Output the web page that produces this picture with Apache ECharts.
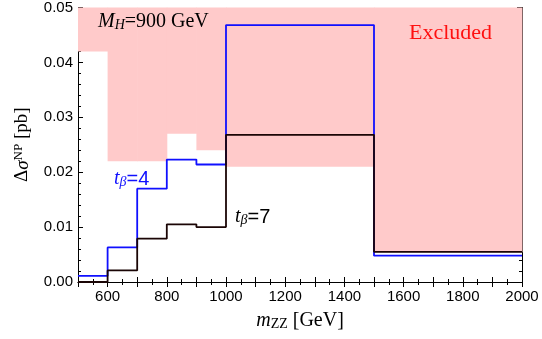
<!DOCTYPE html>
<html>
<head>
<meta charset="utf-8">
<script src="https://cdn.jsdelivr.net/npm/echarts@6/dist/echarts.min.js"></script>
<style>
html, body { margin: 0; padding: 0; background: #fff; }
#main { width: 542px; height: 339px; }
</style>
</head>
<body>
<div id="main"></div>
<script>
// bin edges (GeV) and values (pb)
var binEdges = [500, 600, 700, 800, 900, 1000, 1500, 2000];
var excludedLow = [0.042, 0.022, 0.022, 0.027, 0.024, 0.021, 0.0054];
var tb4 = [0.0011, 0.0063, 0.0170, 0.0223, 0.0214, 0.0468, 0.0048];
var tb7 = [0.0000, 0.0021, 0.0079, 0.0105, 0.0100, 0.0268, 0.0055];
var xTickLabels = [600, 800, 1000, 1200, 1400, 1600, 1800, 2000];
var yTickLabels = [0.00, 0.01, 0.02, 0.03, 0.04, 0.05];

var serif = "'Liberation Serif', 'DejaVu Serif', serif";
var sans = "'Liberation Sans', Arial, sans-serif";

// step points: value held from left edge to next edge
function stepData(vals) {
	var d = [];
	for (var i = 0; i < vals.length; i++) {
		d.push([binEdges[i], vals[i]]);
	}
	d.push([binEdges[binEdges.length - 1], vals[vals.length - 1]]);
	return d;
}

var excludedData = [];
for (var i = 0; i < excludedLow.length; i++) {
	excludedData.push([binEdges[i], binEdges[i + 1], excludedLow[i]]);
}

var myChart = echarts.init(document.getElementById('main'));

var axisLineStyle = { color: '#000', width: 1 };

var option = {
	animation: false,
	grid: { left: 78, right: 20, top: 7, bottom: 57 },
	xAxis: [{
		type: 'value',
		min: 500,
		max: 2000,
		interval: 100,
		position: 'bottom',
		axisLine: { lineStyle: axisLineStyle },
		axisTick: { inside: true, length: 5, lineStyle: { color: '#000' } },
		minorTick: { show: true, splitNumber: 2, length: 3, lineStyle: { color: '#000' } },
		splitLine: { show: false },
		axisLabel: {
			margin: 7,
			fontFamily: sans,
			fontSize: 15,
			color: '#000',
			formatter: function(v) {
				return xTickLabels.indexOf(v) >= 0 ? String(v) : '';
			}
		},
		name: '{i|m}{sub|ZZ}{n| [GeV]}',
		nameLocation: 'middle',
		nameGap: 29,
		nameTextStyle: {
			rich: {
				i: { fontFamily: serif, fontStyle: 'italic', fontSize: 20, color: '#000' },
				sub: { fontFamily: serif, fontSize: 14, color: '#000', verticalAlign: 'bottom', padding: [6, 0, 0, 0] },
				n: { fontFamily: serif, fontSize: 20, color: '#000' }
			}
		}
	}, {
		type: 'value',
		min: 500,
		max: 2000,
		interval: 100,
		position: 'top',
		axisLine: { lineStyle: axisLineStyle },
		axisTick: { inside: true, length: 5, lineStyle: { color: '#000' } },
		minorTick: { show: true, splitNumber: 2, length: 3, lineStyle: { color: '#000' } },
		splitLine: { show: false },
		axisLabel: { show: false }
	}],
	yAxis: [{
		type: 'value',
		min: 0,
		max: 0.05,
		interval: 0.01,
		position: 'left',
		axisLine: { show: true, lineStyle: axisLineStyle },
		axisTick: { show: true, inside: true, length: 5, lineStyle: { color: '#000' } },
		minorTick: { show: true, splitNumber: 5, length: 3, lineStyle: { color: '#000' } },
		splitLine: { show: false },
		axisLabel: {
			margin: 5,
			fontFamily: sans,
			fontSize: 15,
			color: '#000',
			formatter: function(v) { return v.toFixed(2); }
		},
		name: '{n|Δ}{i|σ}{sup|NP}{n| [pb]}',
		nameLocation: 'middle',
		nameGap: 45,
		nameRotate: 90,
		nameTextStyle: {
			rich: {
				i: { fontFamily: serif, fontStyle: 'italic', fontSize: 19, color: '#000' },
				sup: { fontFamily: serif, fontSize: 13, color: '#000', verticalAlign: 'top', padding: [0, 0, 8, 0] },
				n: { fontFamily: serif, fontSize: 19, color: '#000' }
			}
		}
	}, {
		type: 'value',
		min: 0,
		max: 0.05,
		interval: 0.01,
		position: 'right',
		axisLine: { show: true, lineStyle: axisLineStyle },
		axisTick: { show: true, inside: true, length: 5, lineStyle: { color: '#000' } },
		minorTick: { show: true, splitNumber: 5, length: 3, lineStyle: { color: '#000' } },
		splitLine: { show: false },
		axisLabel: { show: false }
	}],
	series: [{
		name: 'Excluded',
		type: 'custom',
		xAxisIndex: 0,
		yAxisIndex: 0,
		data: excludedData,
		encode: { x: [0, 1], y: 2 },
		renderItem: function(params, api) {
			var p0 = api.coord([api.value(0), 0.05]);
			var p1 = api.coord([api.value(1), api.value(2)]);
			return {
				type: 'rect',
				shape: { x: p0[0], y: p0[1], width: p1[0] - p0[0] + 0.5, height: p1[1] - p0[1] },
				style: { fill: '#ffcaca' }
			};
		},
		z: 1
	}, {
		name: 'tb4',
		type: 'line',
		step: 'end',
		data: stepData(tb4),
		symbol: 'none',
		lineStyle: { color: '#1010ff', width: 1.8 },
		z: 3
	}, {
		name: 'tb7',
		type: 'line',
		step: 'end',
		data: stepData(tb7),
		symbol: 'none',
		lineStyle: { color: '#1a0505', width: 1.8 },
		z: 4
	}],
	graphic: [{
		type: 'text',
		left: 98,
		top: 12,
		z: 10,
		style: {
			text: '{i|M}{sub|H}{n|=900 GeV}',
			rich: {
				i: { fontFamily: serif, fontStyle: 'italic', fontSize: 20, fill: '#000' },
				sub: { fontFamily: serif, fontStyle: 'italic', fontSize: 14, fill: '#000', verticalAlign: 'bottom', padding: [7, 0, 0, 0] },
				n: { fontFamily: serif, fontSize: 20, fill: '#000' }
			}
		}
	}, {
		type: 'text',
		left: 409,
		top: 22,
		z: 10,
		style: {
			text: 'Excluded',
			fontFamily: serif,
			fontSize: 22,
			fill: '#ff1010'
		}
	}, {
		type: 'text',
		left: 114,
		top: 169,
		z: 10,
		style: {
			text: '{i|t}{sub|β}{n|=4}',
			rich: {
				i: { fontFamily: serif, fontStyle: 'italic', fontSize: 20, fill: '#1010ff' },
				sub: { fontFamily: serif, fontStyle: 'italic', fontSize: 14, fill: '#1010ff', verticalAlign: 'bottom', padding: [7, 0, 0, 0] },
				n: { fontFamily: sans, fontSize: 20, fill: '#1010ff' }
			}
		}
	}, {
		type: 'text',
		left: 235,
		top: 207,
		z: 10,
		style: {
			text: '{i|t}{sub|β}{n|=7}',
			rich: {
				i: { fontFamily: serif, fontStyle: 'italic', fontSize: 20, fill: '#000' },
				sub: { fontFamily: serif, fontStyle: 'italic', fontSize: 14, fill: '#000', verticalAlign: 'bottom', padding: [7, 0, 0, 0] },
				n: { fontFamily: sans, fontSize: 20, fill: '#000' }
			}
		}
	}]
};

myChart.setOption(option);
</script>
</body>
</html>
